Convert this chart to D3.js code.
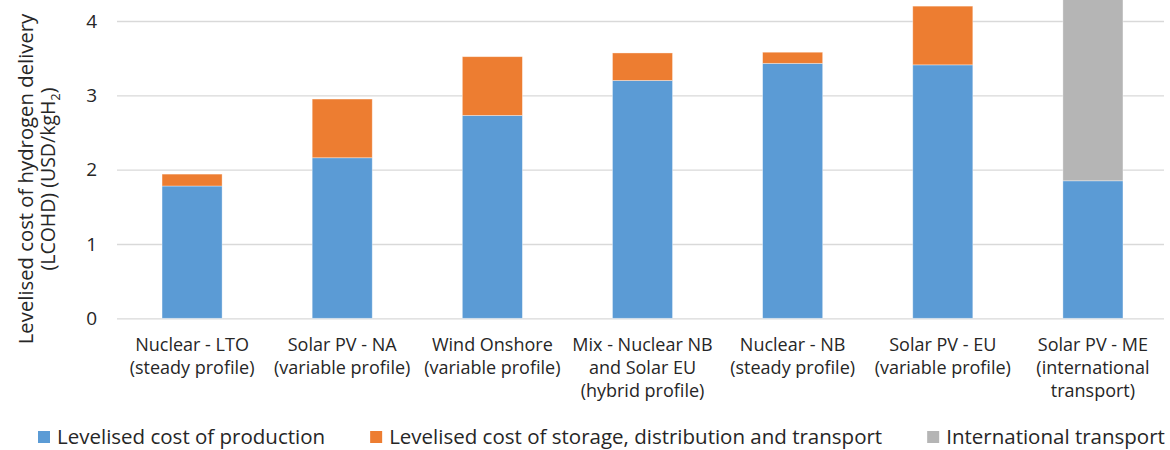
<!DOCTYPE html>
<html>
<head>
<meta charset="utf-8">
<script src="https://cdn.jsdelivr.net/npm/d3@7"></script>
<style>
  body { margin: 0; background: #fff; }
  svg { display: block; }
  text { font-family: "Open Sans", sans-serif; fill: #262626; }
</style>
</head>
<body>
<svg id="chart" width="1170" height="450"></svg>
<script>
// Delivery routes, one label line per array entry
const categories = [
  ["Nuclear - LTO", "(steady profile)"],
  ["Solar PV - NA", "(variable profile)"],
  ["Wind Onshore", "(variable profile)"],
  ["Mix - Nuclear NB", "and Solar EU", "(hybrid profile)"],
  ["Nuclear - NB", "(steady profile)"],
  ["Solar PV - EU", "(variable profile)"],
  ["Solar PV - ME", "(international", "transport)"]
];

// Cost components, USD/kgH2
const production    = [1.78, 2.16, 2.73, 3.20, 3.43, 3.41, 1.85];
const storage       = [0.16, 0.79, 0.79, 0.37, 0.15, 0.79, 0.00];
const international = [0.00, 0.00, 0.00, 0.00, 0.00, 0.00, 2.60];

const seriesNames = [
  "Levelised cost of production",
  "Levelised cost of storage, distribution and transport",
  "International transport"
];
const seriesColors = ["#5b9bd5", "#ed7d31", "#b5b5b5"];

const yTicks = [0, 1, 2, 3, 4];

const svg = d3.select("#chart");

const rows = categories.map((c, i) => ({
  idx: i,
  production: production[i],
  storage: storage[i],
  international: international[i]
}));
const keys = ["production", "storage", "international"];

const x = d3.scaleBand()
  .domain(d3.range(categories.length))
  .range([117, 1168])
  .paddingInner(0.6)
  .paddingOuter(0.3);

const y = d3.scaleLinear().domain([0, 4]).range([318.3, 21]);

// Horizontal gridlines
svg.append("g")
  .attr("transform", "translate(117,0)")
  .call(d3.axisLeft(y).tickValues(yTicks).tickSize(-(1164 - 117)).tickFormat(""))
  .call(g => g.select(".domain").remove())
  .call(g => g.selectAll(".tick line").attr("stroke", "#d9d9d9").attr("stroke-width", 1.3));

// Value labels on the y axis
svg.append("g")
  .attr("transform", "translate(117,0)")
  .call(d3.axisLeft(y).tickValues(yTicks).tickSize(0).tickPadding(20).tickFormat(d3.format("d")))
  .call(g => g.select(".domain").remove())
  .call(g => g.selectAll(".tick text")
    .attr("font-size", 19)
    .attr("font-family", "'Open Sans', sans-serif")
    .attr("fill", "#262626"));

// Stacked bars
const stacked = d3.stack().keys(keys)(rows);
svg.append("g")
  .selectAll("g")
  .data(stacked)
  .join("g")
  .attr("fill", (d, i) => seriesColors[i])
  .selectAll("rect")
  .data(d => d.filter(s => s[1] - s[0] > 0))
  .join("rect")
  .attr("x", d => x(d.data.idx))
  .attr("width", x.bandwidth())
  .attr("y", d => y(d[1]))
  .attr("height", d => y(d[0]) - y(d[1]))
  .attr("stroke", "#ffffff")
  .attr("stroke-opacity", 0.45)
  .attr("stroke-width", 0.8);

// Category labels
const catG = svg.append("g");
categories.forEach((lines, i) => {
  const t = catG.append("text")
    .attr("text-anchor", "middle")
    .attr("font-size", 18);
  lines.forEach((line, j) => {
    t.append("tspan")
      .attr("x", x(i) + x.bandwidth() / 2)
      .attr("y", 351 + j * 23)
      .text(line);
  });
});

// Y-axis title
const title = svg.append("g").attr("transform", "translate(33,179) rotate(-90)");
title.append("text")
  .attr("text-anchor", "middle")
  .attr("font-size", 20.3)
  .text("Levelised cost of hydrogen delivery");
const t2 = title.append("text")
  .attr("text-anchor", "middle")
  .attr("font-size", 19.5)
  .attr("y", 22);
t2.append("tspan").text("(LCOHD) (USD/kgH");
t2.append("tspan").attr("font-size", 13).attr("dy", 5).text("2");
t2.append("tspan").attr("dy", -5).text(")");

// Legend
const legend = svg.append("g");
let lx = 38;
seriesNames.forEach((name, i) => {
  legend.append("rect")
    .attr("x", lx).attr("y", 431)
    .attr("width", 12).attr("height", 12)
    .attr("fill", seriesColors[i]);
  const txt = legend.append("text")
    .attr("x", lx + 19).attr("y", 443.5)
    .attr("font-size", 20.5)
    .text(name);
  lx += 19 + txt.node().getComputedTextLength() + 45;
});
</script>
</body>
</html>
